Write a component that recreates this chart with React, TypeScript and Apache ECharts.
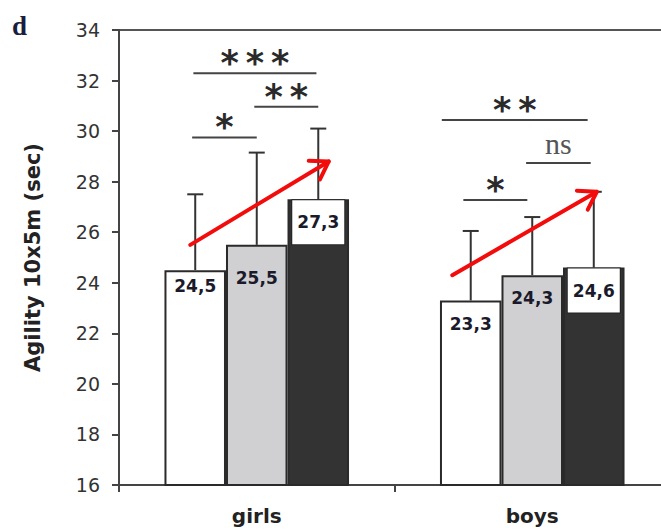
import React, { useEffect, useRef } from "react";
import * as echarts from "echarts";

const categories = ["girls", "boys"];
const conditions = ["c1", "c2", "c3"];
const girlsMeans = [24.5, 25.5, 27.3];
const boysMeans = [23.3, 24.3, 24.6];
const girlsUpper = [27.5, 29.15, 30.1];
const boysUpper = [26.05, 26.6, 27.6];
const yMin = 16;
const yMax = 34;
const yInterval = 2;

// significance brackets: category, from bar position, to bar position, height (data), text
const bracketCats = [0, 0, 0, 1, 1, 1];
const bracketFrom = [-0.05, 0.96, -0.03, -0.47, 0.9, -0.12];
const bracketTo = [1.0, 2.0, 1.97, 1.9, 1.95, 0.92];
const bracketY = [29.75, 30.96, 32.29, 30.44, 28.74, 27.27];
const bracketText = ["*", "**", "***", "**", "ns", "*"];

// trend arrows: category, start pos, start y, end pos, end y
const arrowCats = [0, 1];
const arrowFrom = [-0.08, -0.3];
const arrowFromY = [25.5, 24.3];
const arrowTo = [2.17, 2.05];
const arrowToY = [28.8, 27.6];

const BAR_FRAC = 0.2233;
const barColors = ["#ffffff", "#d0d0d3", "#333333"];
const labelDist = [
  [7, 25],
  [15, 14],
];

export default function App() {
  const ref = useRef<HTMLDivElement>(null);
  useEffect(() => {
    if (!ref.current) return;
    const chart = echarts.init(ref.current, null, { renderer: "svg" });
    const means = [girlsMeans, boysMeans];
    const uppers = [girlsUpper, boysUpper];
    const fmt = (v: number) => v.toFixed(1).replace(".", ",");

    const barSeries = conditions.map((name, i) => ({
      type: "bar",
      name,
      barWidth: "22.33%",
      barGap: "0%",
      z: 2,
      itemStyle: { color: barColors[i], borderColor: "#2a2a2a", borderWidth: 2 },
      data: categories.map((_, c) => {
        const v = means[c][i];
        const label: any =
          i === 2
            ? {
                show: true,
                position: "insideTop",
                distance: 1,
                formatter: fmt(v),
                backgroundColor: "#ffffff",
                borderColor: "#222",
                borderWidth: 1,
                width: 52,
                lineHeight: 20,
                padding: [12, 0, 12, 0],
                color: "#1a1a2a",
                fontFamily: "DejaVu Sans",
                fontWeight: "bold",
                fontSize: 17,
              }
            : {
                show: true,
                position: "insideTop",
                distance: labelDist[c][i],
                formatter: fmt(v),
                color: "#1a1a2a",
                fontFamily: "DejaVu Sans",
                fontWeight: "bold",
                fontSize: 17,
              };
        return { value: v, label };
      }),
    }));

    const errData: number[][] = [];
    categories.forEach((_, c) =>
      conditions.forEach((__, i) => errData.push([c, i, means[c][i], uppers[c][i]]))
    );

    const bracketData = bracketCats.map((c, k) => [c, bracketFrom[k], bracketTo[k], bracketY[k]]);
    const arrowData = arrowCats.map((c, k) => [c, arrowFrom[k], arrowFromY[k], arrowTo[k], arrowToY[k]]);

    const posX = (api: any, cat: number, p: number, val: number) => {
      const band = api.size([1, 0])[0];
      const pt = api.coord([cat, val]);
      return [pt[0] + (p - 1) * BAR_FRAC * band, pt[1]];
    };

    chart.setOption({
      animation: false,
      grid: {
        left: 119,
        right: 10,
        top: 30,
        bottom: 47,
        show: true,
        borderColor: "#555",
        borderWidth: 2,
        backgroundColor: "transparent",
      },
      graphic: [
        {
          type: "text",
          left: 12,
          top: 12,
          style: {
            text: "d",
            font: "bold 27px 'Liberation Serif'",
            fill: "#1c1c3c",
          },
        },
      ],
      xAxis: {
        type: "category",
        data: categories,
        axisLine: { lineStyle: { color: "#444", width: 2 } },
        axisTick: { show: true, length: 7, lineStyle: { color: "#444", width: 2 } },
        axisLabel: {
          margin: 21,
          color: "#222",
          fontFamily: "DejaVu Sans",
          fontWeight: "bold",
          fontSize: 20,
        },
      },
      yAxis: {
        type: "value",
        min: yMin,
        max: yMax,
        interval: yInterval,
        name: "Agility 10x5m (sec)",
        nameLocation: "middle",
        nameGap: 76,
        nameTextStyle: {
          color: "#222",
          fontFamily: "DejaVu Sans",
          fontWeight: "bold",
          fontSize: 21,
        },
        splitLine: { show: false },
        axisLine: { show: true, lineStyle: { color: "#444", width: 2 } },
        axisTick: { show: true, length: 7, lineStyle: { color: "#444", width: 2 } },
        axisLabel: {
          margin: 19,
          color: "#333",
          fontFamily: "DejaVu Sans",
          fontSize: 19,
        },
      },
      series: [
        ...barSeries,
        {
          type: "custom",
          name: "err",
          z: 1,
          encode: { x: 0, y: 2 },
          data: errData,
          renderItem: (params: any, api: any) => {
            const cat = api.value(0);
            const bar = api.value(1);
            const base = posX(api, cat, bar, api.value(2));
            const top = posX(api, cat, bar, api.value(3));
            const st = { stroke: "#333", lineWidth: 2 };
            return {
              type: "group",
              children: [
                { type: "line", shape: { x1: base[0], y1: base[1], x2: top[0], y2: top[1] }, style: st },
                { type: "line", shape: { x1: top[0] - 8, y1: top[1], x2: top[0] + 8, y2: top[1] }, style: st },
              ],
            };
          },
        },
        {
          type: "custom",
          name: "brackets",
          z: 3,
          encode: { x: 0, y: 3 },
          data: bracketData,
          renderItem: (params: any, api: any) => {
            const cat = api.value(0);
            const a = posX(api, cat, api.value(1), api.value(3));
            const b = posX(api, cat, api.value(2), api.value(3));
            const t = bracketText[params.dataIndex];
            const isNs = t === "ns";
            const txt = isNs ? t : t.split("").join("\u2009");
            return {
              type: "group",
              children: [
                { type: "line", shape: { x1: a[0], y1: a[1], x2: b[0], y2: b[1] }, style: { stroke: "#444", lineWidth: 2 } },
                {
                  type: "text",
                  x: (a[0] + b[0]) / 2,
                  y: a[1] - (isNs ? 19 : 10),
                  style: {
                    text: txt,
                    align: "center",
                    verticalAlign: "middle",
                    fill: isNs ? "#555" : "#2a2a2a",
                    font: isNs ? "30px 'Liberation Serif'" : "bold 35px 'DejaVu Sans'",
                  },
                },
              ],
            };
          },
        },
        {
          type: "custom",
          name: "arrows",
          z: 5,
          encode: { x: 0, y: 2 },
          data: arrowData,
          renderItem: (params: any, api: any) => {
            const cat = api.value(0);
            const s = posX(api, cat, api.value(1), api.value(2));
            const e = posX(api, cat, api.value(3), api.value(4));
            const ang = Math.atan2(e[1] - s[1], e[0] - s[0]);
            const L = 20;
            const h = (33 * Math.PI) / 180;
            const p1 = [e[0] - L * Math.cos(ang - h), e[1] - L * Math.sin(ang - h)];
            const p2 = [e[0] - L * Math.cos(ang + h), e[1] - L * Math.sin(ang + h)];
            const st = { stroke: "#f20c0c", lineWidth: 4, fill: null, lineCap: "round", lineJoin: "round" };
            return {
              type: "group",
              children: [
                { type: "line", shape: { x1: s[0], y1: s[1], x2: e[0], y2: e[1] }, style: st },
                { type: "polyline", shape: { points: [p1, e, p2] }, style: st },
              ],
            };
          },
        },
      ],
    });
    return () => chart.dispose();
  }, []);
  return (
    <div style={{ width: 661, height: 532, position: "absolute", left: 0, top: 0, overflow: "hidden" }}>
      <div ref={ref} style={{ width: 680, height: 532 }} />
    </div>
  );
}
